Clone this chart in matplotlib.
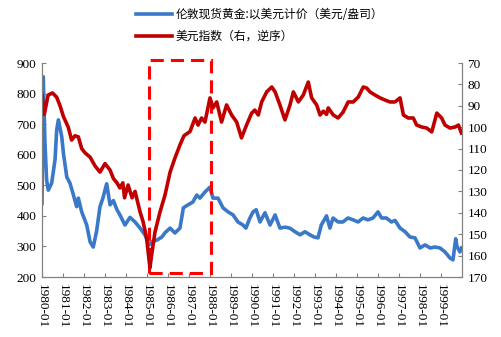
import matplotlib
matplotlib.use("Agg")
import matplotlib.pyplot as plt
from matplotlib.patches import Rectangle

plt.rcParams['font.family'] = ['Liberation Serif', 'Noto Sans CJK SC', 'DejaVu Sans']

# London spot gold, USD/oz (left axis)
gold_t = [1980.00, 1980.06, 1980.14, 1980.22, 1980.30, 1980.46, 1980.62, 1980.70, 1980.78, 1980.94,
          1981.02, 1981.18, 1981.33, 1981.49, 1981.65, 1981.73, 1981.89, 1982.13, 1982.29, 1982.44,
          1982.60, 1982.76, 1982.90, 1983.08, 1983.24, 1983.40, 1983.57, 1983.71, 1983.95, 1984.19,
          1984.43, 1984.67, 1984.90, 1985.10, 1985.24, 1985.48, 1985.71, 1985.86, 1986.10, 1986.33,
          1986.57, 1986.73, 1986.95, 1987.18, 1987.37, 1987.52, 1987.76, 1988.00, 1988.14, 1988.38,
          1988.62, 1988.86, 1989.10, 1989.33, 1989.57, 1989.71, 1989.90, 1990.05, 1990.20, 1990.38,
          1990.62, 1990.86, 1991.10, 1991.33, 1991.57, 1991.80, 1992.05, 1992.29, 1992.52, 1992.76,
          1992.95, 1993.14, 1993.30, 1993.55, 1993.71, 1993.86, 1994.10, 1994.33, 1994.57, 1994.81,
          1995.05, 1995.29, 1995.52, 1995.76, 1996.00, 1996.17, 1996.40, 1996.64, 1996.81, 1997.05,
          1997.29, 1997.52, 1997.76, 1998.00, 1998.24, 1998.48, 1998.71, 1998.95, 1999.19, 1999.43,
          1999.57, 1999.70, 1999.76, 1999.90, 1999.98]
gold = [440, 855, 640, 517, 484, 507, 583, 681, 714, 659,
        605, 527, 507, 470, 430, 458, 413, 370, 315, 298,
        350, 430, 458, 505, 436, 450, 420, 403, 370, 395,
        380, 360, 338, 305, 315, 321, 331, 345, 360, 344,
        360, 426, 436, 445, 468, 458, 478, 494, 458, 458,
        426, 413, 403, 380, 370, 360, 393, 413, 420, 380,
        410, 370, 403, 360, 363, 360, 348, 338, 348, 338,
        331, 328, 370, 400, 360, 393, 380, 380, 393, 387,
        380, 393, 387, 393, 413, 393, 393, 380, 385, 360,
        348, 331, 328, 295, 305, 295, 298, 295, 282, 262,
        256, 325, 300, 282, 295]

# US dollar index (right axis, inverted)
usd_t = [1980.00, 1980.11, 1980.29, 1980.50, 1980.70, 1980.86, 1981.02, 1981.25, 1981.41, 1981.57,
         1981.73, 1981.89, 1982.05, 1982.29, 1982.52, 1982.76, 1983.00, 1983.24, 1983.40, 1983.57,
         1983.71, 1983.85, 1983.93, 1984.10, 1984.29, 1984.43, 1984.67, 1984.81, 1984.98, 1985.14,
         1985.22, 1985.38, 1985.62, 1985.86, 1986.10, 1986.33, 1986.57, 1986.76, 1987.05, 1987.29,
         1987.43, 1987.60, 1987.76, 1988.00, 1988.14, 1988.32, 1988.55, 1988.79, 1989.03, 1989.27,
         1989.50, 1989.74, 1989.98, 1990.13, 1990.30, 1990.46, 1990.70, 1990.94, 1991.10, 1991.33,
         1991.57, 1991.81, 1991.97, 1992.21, 1992.44, 1992.68, 1992.84, 1993.08, 1993.24, 1993.40,
         1993.55, 1993.63, 1993.87, 1994.10, 1994.34, 1994.58, 1994.82, 1995.06, 1995.30, 1995.46,
         1995.62, 1995.86, 1996.10, 1996.33, 1996.57, 1996.81, 1997.05, 1997.21, 1997.44, 1997.68,
         1997.84, 1998.08, 1998.32, 1998.56, 1998.80, 1999.03, 1999.19, 1999.43, 1999.67, 1999.83,
         1999.97]
usd = [85, 94, 85, 84, 86, 90, 95, 100, 106, 104,
       104.5, 110, 112, 114, 118, 121, 117, 120, 124, 126,
       128.4, 126, 133, 127, 133, 130, 139.6, 144, 151.7, 165.7,
       159.7, 149, 139.6, 131.6, 121, 114.4, 108.3, 104, 102, 95.7,
       99, 95.7, 97.6, 86.3, 91, 88.2, 97.6, 89.6, 94.3, 97.6,
       105, 99, 93.5, 92, 94.3, 88.2, 83.5, 81.2, 83.5, 89.6,
       96.6, 89.6, 83.5, 88.2, 85, 78.9, 86.3, 89.6, 94.3, 92.5,
       94, 91, 94.3, 95.7, 92.9, 88.2, 88.2, 85.9, 81.2, 81.7,
       83.5, 85, 86.3, 87.3, 88.2, 88.2, 86.3, 94.3, 95.7, 95.7,
       99, 99.9, 100.4, 102.2, 93.4, 95.7, 99, 100.4, 99.9, 99,
       102.7]

years = list(range(1980, 2000))
year_labels = [f"{y}-01" for y in years]

blue = '#3a78c8'
red = '#c00000'
spine_c = '#808080'

fig = plt.figure(figsize=(5.02, 3.37), dpi=100)
ax = fig.add_axes([42 / 502, 1 - 277 / 337, 420 / 502, 214 / 337])
ax2 = ax.twinx()

l1, = ax.plot(gold_t, gold, color=blue, lw=2.6, solid_joinstyle='round')
l2, = ax2.plot(usd_t, usd, color=red, lw=2.6, solid_joinstyle='round')

ax.set_xlim(1980, 2000)
ax.set_ylim(200, 900)
ax.set_yticks(range(200, 901, 100))
ax2.set_ylim(170, 70)
ax2.set_yticks(range(70, 171, 10))
ax.set_xticks(years)
ax.set_xticklabels(year_labels, rotation=-90)

for a in (ax, ax2):
    a.spines['top'].set_visible(False)
    for s in ('left', 'right', 'bottom'):
        a.spines[s].set_color(spine_c)
    a.tick_params(direction='in', length=3, color=spine_c, labelsize=9.5, pad=4)
ax.tick_params(axis='x', pad=5)

# dashed box around 1985-1988
box = Rectangle((1985.1, 213), 2.95, 698, fill=False, edgecolor='#ff0000',
                lw=2.2, linestyle=(0, (4.3, 2.3)), clip_on=False, zorder=5)
ax.add_patch(box)

fig.legend([l1, l2], ['伦敦现货黄金:以美元计价（美元/盎司）', '美元指数（右，逆序）'],
           loc='upper left', bbox_to_anchor=(128 / 502, 1.0), frameon=False,
           prop={'family': ['Noto Sans CJK SC'], 'size': 8.5},
           handlelength=3.0, handletextpad=0.3, labelspacing=0.75, borderaxespad=0.3)

fig.savefig('out.png', dpi=100)
